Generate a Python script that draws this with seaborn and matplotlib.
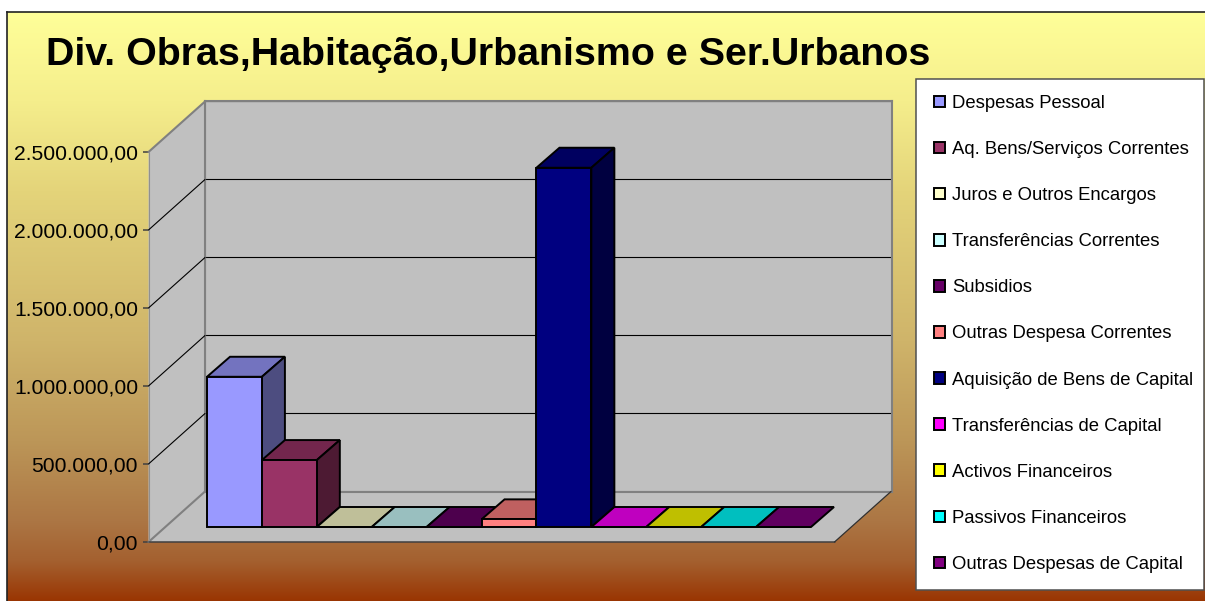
import numpy as np
import pandas as pd
import seaborn as sns
import matplotlib
matplotlib.use("Agg")
import matplotlib.pyplot as plt
from matplotlib.patches import Patch, Polygon, Rectangle
from matplotlib.colors import to_rgb

# Data
categories = [
    "Despesas Pessoal", "Aq. Bens/Serviços Correntes", "Juros e Outros Encargos",
    "Transferências Correntes", "Subsidios", "Outras Despesa Correntes",
    "Aquisição de Bens de Capital", "Transferências de Capital",
    "Activos Financeiros", "Passivos Financeiros", "Outras Despesas de Capital",
]
values = [963000, 429000, 0, 0, 0, 49000, 2303000, 0, 0, 0, 0]
colors = ["#9999FF", "#993366", "#FFFFCC", "#CCFFFF", "#660066", "#FF8080",
          "#000080", "#FF00FF", "#FFFF00", "#00FFFF", "#800080"]
tick_values = [0, 500000, 1000000, 1500000, 2000000, 2500000]
tick_labels = ["0,00", "500.000,00", "1.000.000,00", "1.500.000,00", "2.000.000,00", "2.500.000,00"]
title = "Div. Obras,Habitação,Urbanismo e Ser.Urbanos"

sns.set_theme(style="white")
plt.rcParams["font.family"] = ["Liberation Sans", "DejaVu Sans"]

W, H = 1205, 601
fig = plt.figure(figsize=(W / 100, H / 100), dpi=100, facecolor="white")


def rect(left, top, right, bottom):
    # pixel box (from top left) to figure fractions
    return [left / W, 1 - bottom / H, (right - left) / W, (bottom - top) / H]


# background gradient
ax_bg = fig.add_axes(rect(7, 12, 1206, 603), zorder=0)
stop_y = [0, 88, 178, 328, 428, 508, 548, 589]
stop_c = ["#FFFF99", "#F5EE8C", "#E4D47A", "#CFB46A", "#BC9658", "#AC7644", "#A4602F", "#993300"]
stop_rgb = np.array([to_rgb(c) for c in stop_c])
rows = np.arange(590)
grad = np.stack([np.interp(rows, stop_y, stop_rgb[:, i]) for i in range(3)], axis=1)[:, None, :]
ax_bg.imshow(grad, aspect="auto", interpolation="bilinear")
ax_bg.set_xticks([])
ax_bg.set_yticks([])
for s in ax_bg.spines.values():
    s.set_color("#222222")
    s.set_linewidth(1.2)

# back wall
ax_back = fig.add_axes(rect(205, 101, 891.5, 491.5), zorder=1, facecolor="#C0C0C0")
ax_back.set_ylim(0, 2500000)
ax_back.set_xticks([])
ax_back.set_yticks(tick_values)
ax_back.tick_params(left=False, labelleft=False)
ax_back.yaxis.grid(True, color="black", linewidth=0.8)
for s in ax_back.spines.values():
    s.set_color("#808080")
    s.set_linewidth(1.5)

# front plane holds the value axis, side wall and floor
ax_front = fig.add_axes(rect(148.5, 152, 834.5, 542), zorder=2)
ax_front.patch.set_visible(False)
ax_front.set_ylim(0, 2500000)
ax_front.set_xticks([])
ax_front.set_yticks(tick_values)
ax_front.set_yticklabels(tick_labels, fontsize=15.2, color="black")
ax_front.tick_params(axis="y", left=True, length=4.5, width=1.1, color="#404040", pad=3)
sns.despine(ax=ax_front, left=True, bottom=True, top=True, right=True)

dx = 56.5 / 686
dy = 50.5 / 390
ax_front.add_patch(Polygon([(0, 0), (0, 1), (dx, 1 + dy), (dx, dy)], closed=True,
                           transform=ax_front.transAxes, facecolor="#C0C0C0",
                           edgecolor="none", clip_on=False, zorder=1))
ax_front.add_patch(Polygon([(0, 0), (1, 0), (1 + dx, dy), (dx, dy)], closed=True,
                           transform=ax_front.transAxes, facecolor="#C0C0C0",
                           edgecolor="none", clip_on=False, zorder=1))
ax_front.plot([0, dx], [1, 1 + dy], transform=ax_front.transAxes, color="#808080", lw=1.5, clip_on=False, zorder=2)
ax_front.plot([0, dx], [0, dy], transform=ax_front.transAxes, color="#808080", lw=1.5, clip_on=False, zorder=2)
ax_front.plot([dx, dx], [dy, 1 + dy], transform=ax_front.transAxes, color="#808080", lw=1.5, clip_on=False, zorder=2)
ax_front.plot([dx, 1 + dx], [dy, dy], transform=ax_front.transAxes, color="#808080", lw=1.5, clip_on=False, zorder=2)
ax_front.plot([0, 0], [0, 1], transform=ax_front.transAxes, color="#909090", lw=0.8, clip_on=False, zorder=2)
ax_front.plot([0, 1], [0, 0], transform=ax_front.transAxes, color="#404040", lw=1.1, clip_on=False, zorder=2)
ax_front.plot([1, 1 + dx], [0, dy], transform=ax_front.transAxes, color="#303030", lw=0.9, clip_on=False, zorder=2)
for v in tick_values[1:-1]:
    frac = v / 2500000
    ax_front.plot([0, dx], [frac, frac + dy], transform=ax_front.transAxes, color="black", lw=0.8, clip_on=False, zorder=2)

# bars
ax_bars = fig.add_axes(rect(207, 137, 811, 527), zorder=3)
ax_bars.patch.set_visible(False)
df = pd.DataFrame({"categoria": categories, "valor": values})
sns.barplot(data=df, x="categoria", y="valor", hue="categoria", palette=colors,
            dodge=False, width=1, legend=False, saturation=1, ax=ax_bars,
            edgecolor="black", linewidth=1.4)
ax_bars.set_ylim(0, 2500000)
ax_bars.set_xlim(-0.5, len(categories) - 0.5)
ax_bars.axis("off")

depth_x = 23 / (604 / 11)
depth_y = 20 / 390 * 2500000
bars = sorted(ax_bars.patches, key=lambda b: b.get_x())
for i, b in enumerate(bars):
    x0, x1, h = b.get_x(), b.get_x() + b.get_width(), b.get_height()
    col = np.array(to_rgb(colors[i]))
    b.set_zorder(10 + 3 * i + 2)
    b.set_clip_on(False)
    ax_bars.add_patch(Polygon([(x0, h), (x1, h), (x1 + depth_x, h + depth_y), (x0 + depth_x, h + depth_y)],
                              closed=True, facecolor=col * 0.75, edgecolor="black", linewidth=1.4,
                              clip_on=False, zorder=10 + 3 * i))
    if h > 0:
        ax_bars.add_patch(Polygon([(x1, 0), (x1, h), (x1 + depth_x, h + depth_y), (x1 + depth_x, depth_y)],
                                  closed=True, facecolor=col * 0.5, edgecolor="black", linewidth=1.4,
                                  clip_on=False, zorder=10 + 3 * i + 1))

# title
fig.text(46 / W, 1 - 65 / H, title, fontsize=28.4, fontweight="bold", color="black", va="baseline", zorder=6)

# legend box
fig.add_artist(Rectangle((916 / W, 1 - 590 / H), 288 / W, 511 / H, transform=fig.transFigure,
                         facecolor="white", edgecolor="#505050", linewidth=1.1, zorder=5))
handles = [Patch(facecolor=c, edgecolor="black", linewidth=1.4) for c in colors]
leg = fig.legend(handles, categories, loc="upper left", bbox_to_anchor=(934 / W, 1 - 95 / H),
                 bbox_transform=fig.transFigure, frameon=False, fontsize=13.3, labelcolor="black",
                 handlelength=0.59, handleheight=0.59, handletextpad=0.37,
                 labelspacing=1.575, borderpad=0, borderaxespad=0)
leg.set_zorder(6)

fig.savefig("out.png", dpi=100)
